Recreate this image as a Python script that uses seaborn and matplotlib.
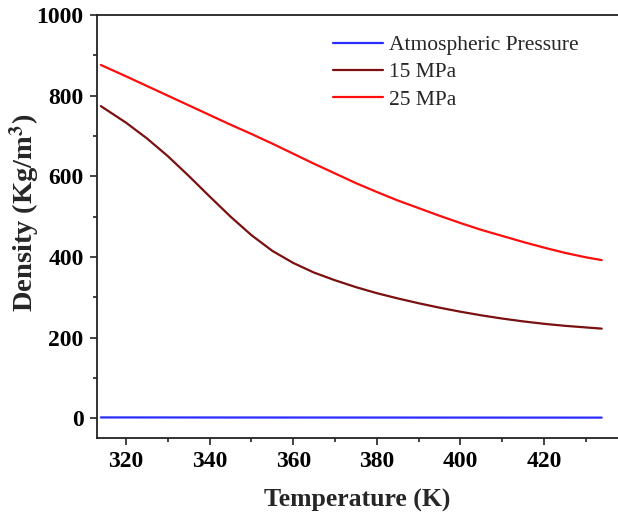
from matplotlib import pyplot as plt
from matplotlib.ticker import MultipleLocator
import pandas as pd
import seaborn as sns

# temperature points (K) and densities (kg/m3)
temperature = [314, 320, 325, 330, 335, 340, 345, 350, 355, 360, 365, 370, 375,
               380, 385, 390, 395, 400, 405, 410, 415, 420, 425, 430, 433.8]
rho_atm = [1.71, 1.68, 1.65, 1.63, 1.60, 1.58, 1.55, 1.53, 1.51, 1.49, 1.47, 1.45, 1.43,
           1.41, 1.39, 1.37, 1.36, 1.34, 1.32, 1.31, 1.29, 1.28, 1.26, 1.25, 1.24]
rho_15 = [774, 733, 694, 650, 601, 550, 500, 454, 415, 385, 361, 342, 325,
          310, 297, 285, 274, 264, 255, 247, 240, 234, 229, 225, 222]
rho_25 = [876, 848, 824, 800, 776, 752, 728, 705, 681, 656, 631, 607, 583,
          561, 540, 521, 502, 484, 467, 452, 437, 423, 410, 399, 392]

series = ["Atmospheric Pressure", "15 MPa", "25 MPa"]
colors = ["#2b2bff", "#7a1010", "#ff0d0d"]

df = pd.concat([
    pd.DataFrame({"T": temperature, "rho": vals, "series": name})
    for name, vals in zip(series, [rho_atm, rho_15, rho_25])
])

sns.set_theme(style="ticks")
plt.rcParams["font.family"] = ["Liberation Serif", "DejaVu Serif"]
plt.rcParams["mathtext.fontset"] = "stix"

fig = plt.figure(figsize=(6.18, 5.18), dpi=100)
ax = fig.add_axes([0.1565, 0.1539, 1.0 - 0.1565, 0.971 - 0.1539])

sns.lineplot(data=df, x="T", y="rho", hue="series", hue_order=series,
             palette=dict(zip(series, colors)), linewidth=1.6, ax=ax)

ax.set_xlim(313.0, 437.7)
ax.set_ylim(-50, 1000)
ax.xaxis.set_major_locator(MultipleLocator(20))
ax.xaxis.set_minor_locator(MultipleLocator(10))
ax.yaxis.set_major_locator(MultipleLocator(200))
ax.yaxis.set_minor_locator(MultipleLocator(100))

ax.tick_params(which="major", direction="out", length=5, width=1.2, colors="#222222",
               labelsize=17, labelcolor="black", pad=4.5)
ax.tick_params(which="minor", direction="out", length=3, width=1.2, colors="#222222")
for lab in ax.get_xticklabels() + ax.get_yticklabels():
    lab.set_fontweight("bold")

for side in ["left", "bottom", "top"]:
    ax.spines[side].set_linewidth(1.3)
    ax.spines[side].set_color("#222222")
ax.spines["right"].set_visible(False)

ax.set_xlabel("Temperature (K)", fontsize=18.5, fontweight="bold", labelpad=12)
ax.set_ylabel(r"Density (Kg/m$^\mathbf{3}$)", fontsize=20.5, fontweight="bold")
ax.yaxis.set_label_coords(-0.105, 0.532)

ax.legend(loc="upper left", bbox_to_anchor=(0.425, 0.988), frameon=False,
          fontsize=15.5, handlelength=2.3, handletextpad=0.3, labelspacing=0.33,
          borderaxespad=0.3)

fig.savefig("out.png", dpi=100)
